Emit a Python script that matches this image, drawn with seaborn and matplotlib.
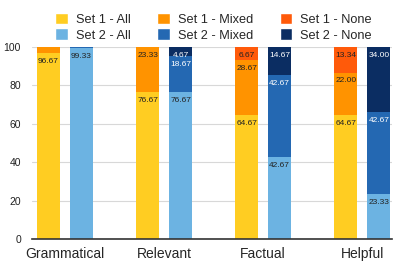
import seaborn as sns
import matplotlib.pyplot as plt
import pandas as pd
from matplotlib.patches import Patch

categories = ['Grammatical', 'Relevant', 'Factual', 'Helpful']
set1_all = [96.67, 76.67, 64.67, 64.67]
set1_mixed = [3.33, 23.33, 28.67, 22.00]
set1_none = [0.0, 0.0, 6.67, 13.34]
set2_all = [99.33, 76.67, 42.67, 23.33]
set2_mixed = [0.67, 18.67, 42.67, 42.67]
set2_none = [0.0, 4.67, 14.67, 34.00]

colors = {
    'Set 1 - All': '#FFCD22', 'Set 1 - Mixed': '#FF9300', 'Set 1 - None': '#FF5A0A',
    'Set 2 - All': '#6CB3E2', 'Set 2 - Mixed': '#2468B2', 'Set 2 - None': '#0B2D62',
}

sns.set_style('white')
plt.rcParams['font.family'] = ['Liberation Sans', 'DejaVu Sans']

# long-form table with cumulative tops for each layer
rows = []
for i, c in enumerate(categories):
    for s, a, m, n in [('Set 1', set1_all, set1_mixed, set1_none), ('Set 2', set2_all, set2_mixed, set2_none)]:
        rows.append({'category': c, 'set': s,
                     'All': a[i], 'Mixed': m[i], 'None': n[i],
                     'top_All': a[i], 'top_Mixed': a[i] + m[i], 'top_None': a[i] + m[i] + n[i]})
df = pd.DataFrame(rows)

fig = plt.figure(figsize=(3.99, 2.63), dpi=100)
ax = fig.add_axes([32 / 399, 24 / 263, 360 / 399, 192 / 263])

for layer in ['None', 'Mixed', 'All']:
    pal = {'Set 1': colors['Set 1 - ' + layer], 'Set 2': colors['Set 2 - ' + layer]}
    n_before = len(ax.containers)
    sns.barplot(data=df, x='category', y='top_' + layer, hue='set', palette=pal,
                width=0.667, gap=0.3, saturation=1, legend=False, ax=ax,
                order=categories, hue_order=['Set 1', 'Set 2'], errorbar=None,
                linewidth=0, edgecolor='none')
    for cont, s in zip(ax.containers[n_before:], ['Set 1', 'Set 2']):
        vals = df[df['set'] == s].set_index('category').loc[categories, layer]
        labels = [f'{v:.2f}' if v >= 4 else '' for v in vals]
        dark = (layer != 'All' and s == 'Set 2')
        ax.bar_label(cont, labels=labels, padding=-8.5, fontsize=6,
                     color='white' if dark else '#222222')

ax.set_ylim(0, 100)
ax.set_xlim(-0.333, 3.3)
ax.set_yticks([0, 20, 40, 60, 80, 100])
ax.yaxis.grid(True, color='#d8d8d8', lw=0.8)
ax.set_axisbelow(True)
ax.set_xlabel('')
ax.set_ylabel('')
ax.tick_params(axis='y', labelsize=7.5, length=0, pad=8, labelcolor='#222222')
ax.tick_params(axis='x', labelsize=10, length=0, pad=6)
for sp in ['left', 'right', 'top']:
    ax.spines[sp].set_visible(False)
ax.spines['bottom'].set_color('#333333')
ax.spines['bottom'].set_linewidth(1.2)

order = ['Set 1 - All', 'Set 2 - All', 'Set 1 - Mixed', 'Set 2 - Mixed', 'Set 1 - None', 'Set 2 - None']
handles = [Patch(facecolor=colors[k], label=k) for k in order]
fig.legend(handles=handles, ncol=3, loc='upper center', bbox_to_anchor=(0.535, 0.995),
           frameon=False, fontsize=9.2, handlelength=1.0, handleheight=1.0,
           handletextpad=0.6, columnspacing=2.1, labelspacing=0.2)

fig.savefig('out.png', dpi=100)
